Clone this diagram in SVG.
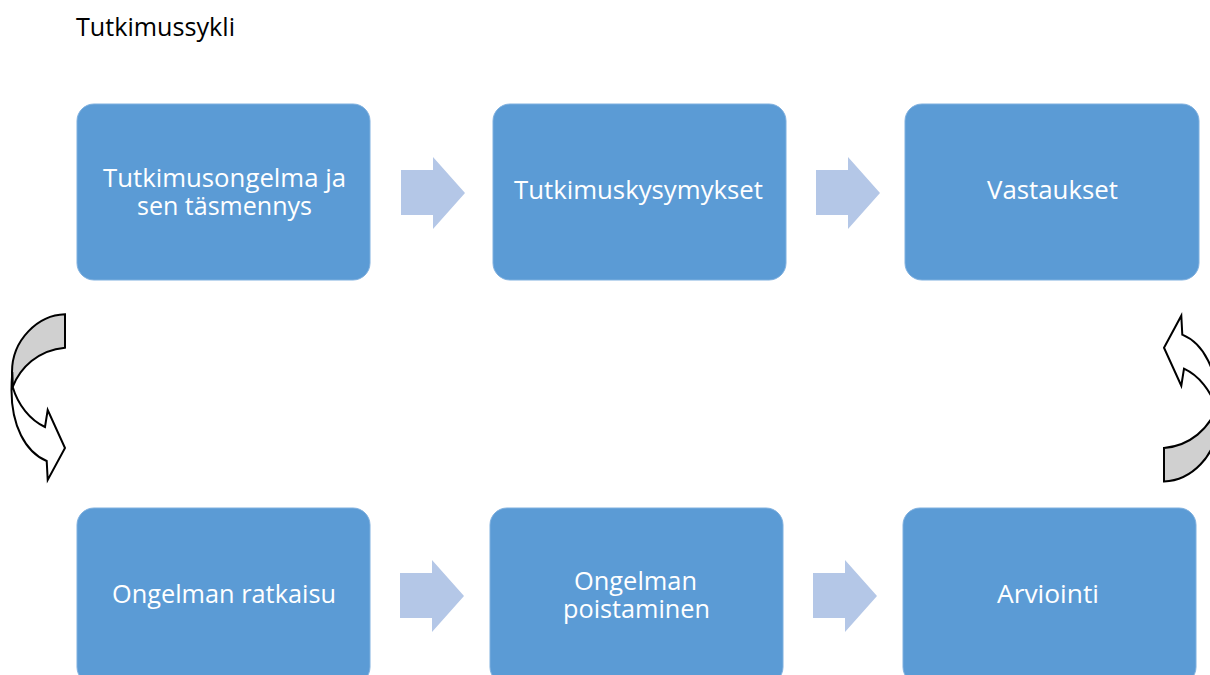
<svg xmlns="http://www.w3.org/2000/svg" width="1210" height="675" viewBox="0 0 1210 675">
  <style>
    .box { fill: #5b9bd5; stroke: #7fb0df; stroke-width: 1; }
    .lbl { font-family: "Open Sans", "Noto Sans", "DejaVu Sans", sans-serif; font-size: 26px; fill: #ffffff; text-anchor: middle; }
    .title { font-family: "Open Sans", "Noto Sans", "DejaVu Sans", sans-serif; font-size: 25px; fill: #000000; }
    .blk { fill: #b4c7e7; }
    .cgray { fill: #d0d0d0; stroke: #000000; stroke-width: 2; stroke-linejoin: miter; }
    .cwhite { fill: #ffffff; stroke: #000000; stroke-width: 2; stroke-linejoin: miter; }
  </style>
  <defs>
    <g id="curved">
      <path class="cgray" d="M65,314.3 C38,315 12,340 12,372 C12,378 12.3,383 12.7,387 C20,368 38,350 65,347.7 Z"/>
      <path class="cwhite" d="M12.7,387 C18,405 30,420 45,427 L47.7,410 L65,448 L47.7,480 L46.7,461 C25,452 11.5,425 11.5,390 C11.5,383 12,376 12.3,372 Z"/>
    </g>
    <polygon id="blockArrow" points="0,13 32,13 32,0 64,36 32,72 32,58 0,58"/>
  </defs>

  <text class="title" x="76" y="36" textLength="159" lengthAdjust="spacingAndGlyphs">Tutkimussykli</text>

  <g id="connectors">
    <use href="#blockArrow" class="blk" x="401" y="157"/>
    <use href="#blockArrow" class="blk" x="816" y="157"/>
    <use href="#blockArrow" class="blk" x="400" y="560"/>
    <use href="#blockArrow" class="blk" x="813" y="560"/>
    <use href="#curved"/>
    <use href="#curved" transform="translate(1229,795.7) scale(-1,-1)"/>
  </g>

  <g id="node-tutkimusongelma">
    <rect class="box" x="77" y="104" width="293" height="176" rx="17"/>
    <text class="lbl" x="224.5" y="187" textLength="243" lengthAdjust="spacingAndGlyphs">Tutkimusongelma ja</text>
    <text class="lbl" x="224.5" y="215" textLength="175" lengthAdjust="spacingAndGlyphs">sen täsmennys</text>
  </g>
  <g id="node-tutkimuskysymykset">
    <rect class="box" x="493" y="104" width="293" height="176" rx="17"/>
    <text class="lbl" x="638.5" y="199" textLength="249" lengthAdjust="spacingAndGlyphs">Tutkimuskysymykset</text>
  </g>
  <g id="node-vastaukset">
    <rect class="box" x="905" y="104" width="294" height="176" rx="17"/>
    <text class="lbl" x="1052.5" y="199" textLength="131" lengthAdjust="spacingAndGlyphs">Vastaukset</text>
  </g>
  <g id="node-ratkaisu">
    <rect class="box" x="77" y="508" width="293" height="176" rx="17"/>
    <text class="lbl" x="224" y="603" textLength="224" lengthAdjust="spacingAndGlyphs">Ongelman ratkaisu</text>
  </g>
  <g id="node-poistaminen">
    <rect class="box" x="490" y="508" width="293" height="176" rx="17"/>
    <text class="lbl" x="635.5" y="590" textLength="123" lengthAdjust="spacingAndGlyphs">Ongelman</text>
    <text class="lbl" x="636.5" y="618" textLength="147" lengthAdjust="spacingAndGlyphs">poistaminen</text>
  </g>
  <g id="node-arviointi">
    <rect class="box" x="903" y="508" width="293" height="176" rx="17"/>
    <text class="lbl" x="1048" y="603" textLength="102" lengthAdjust="spacingAndGlyphs">Arviointi</text>
  </g>
</svg>
